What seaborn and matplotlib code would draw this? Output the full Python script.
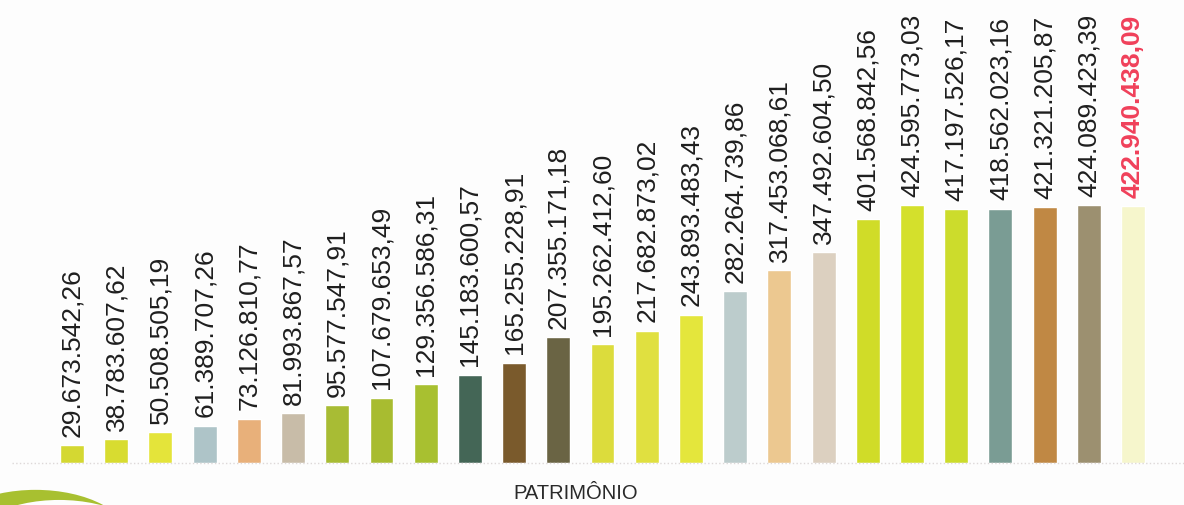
import matplotlib
matplotlib.use('Agg')
import matplotlib.pyplot as plt
import seaborn as sns
import pandas as pd
from matplotlib.patches import Ellipse

# Patrimônio (R$), um valor por barra
valores = [29673542.26, 38783607.62, 50508505.19, 61389707.26, 73126810.77,
           81993867.57, 95577547.91, 107679653.49, 129356586.31, 145183600.57,
           165255228.91, 207355171.18, 195262412.60, 217682873.02, 243893483.43,
           282264739.86, 317453068.61, 347492604.50, 401568842.56, 424595773.03,
           417197526.17, 418562023.16, 421321205.87, 424089423.39, 422940438.09]

rotulos = ['29.673.542,26', '38.783.607,62', '50.508.505,19', '61.389.707,26',
           '73.126.810,77', '81.993.867,57', '95.577.547,91', '107.679.653,49',
           '129.356.586,31', '145.183.600,57', '165.255.228,91', '207.355.171,18',
           '195.262.412,60', '217.682.873,02', '243.893.483,43', '282.264.739,86',
           '317.453.068,61', '347.492.604,50', '401.568.842,56', '424.595.773,03',
           '417.197.526,17', '418.562.023,16', '421.321.205,87', '424.089.423,39',
           '422.940.438,09']

cores = ['#d4d832', '#d8dc30', '#e4e43a', '#aec4c8', '#e8b07a', '#c8bca8',
         '#a8bc34', '#a8bc30', '#a8c030', '#446656', '#7a5a2c', '#6a6444',
         '#dcdc3c', '#e0e040', '#e4e63c', '#bccccc', '#ecc890', '#dcd0c0',
         '#d0dc28', '#d4e02c', '#ccdc2c', '#7a9c94', '#c08844', '#9c9070',
         '#f6f6cc']

df = pd.DataFrame({'idx': [str(i) for i in range(len(valores))],
                   'valor': [v / 1e6 for v in valores]})

sns.set_style('white')
plt.rcParams['font.family'] = ['Liberation Sans', 'DejaVu Sans']

fig = plt.figure(figsize=(11.84, 5.05), dpi=100)
fig.patch.set_facecolor('#fdfdfd')
ax = fig.add_axes([0, 0, 1, 1])
ax.set_facecolor('#fdfdfd')

sns.barplot(data=df, x='idx', y='valor', hue='idx', palette=cores,
            legend=False, width=0.54, saturation=1, ax=ax)

# Rótulos verticais acima das barras
for i, (v, txt) in enumerate(zip(df['valor'], rotulos)):
    ultimo = i == len(valores) - 1
    ax.annotate(txt, (i, v), xytext=(0, 6), textcoords='offset points',
                rotation=90, ha='center', va='bottom', fontsize=19,
                color='#f0405a' if ultimo else '#1e1e1e',
                fontweight='bold' if ultimo else 'normal')

# Linha de base pontilhada
ax.axhline(0, xmin=0.01, color='#ddd8d8', ls=':', lw=1)

# Escalas para posicionar tudo como na imagem
px_x = 44.21
px_y = 258 / 424.6
ax.set_xlim(-72 / px_x, (1184 - 72) / px_x)
ax.set_ylim(-42 / px_y, (505 - 42) / px_y)
ax.axis('off')

fig.text(0.486, 6 / 505, 'PATRIMÔNIO', ha='center', va='baseline',
         fontsize=14.5, color='#2a2a2a')

# Detalhe verde no canto
fig.patches.append(Ellipse((0.03, -0.07), 0.16, 0.2, transform=fig.transFigure,
                           facecolor='#a8c030', edgecolor='none', zorder=0))
fig.patches.append(Ellipse((0.05, -0.09), 0.16, 0.2, transform=fig.transFigure,
                           facecolor='#fdfdfd', edgecolor='none', zorder=0))

fig.savefig('out.png', dpi=100, facecolor=fig.get_facecolor())
